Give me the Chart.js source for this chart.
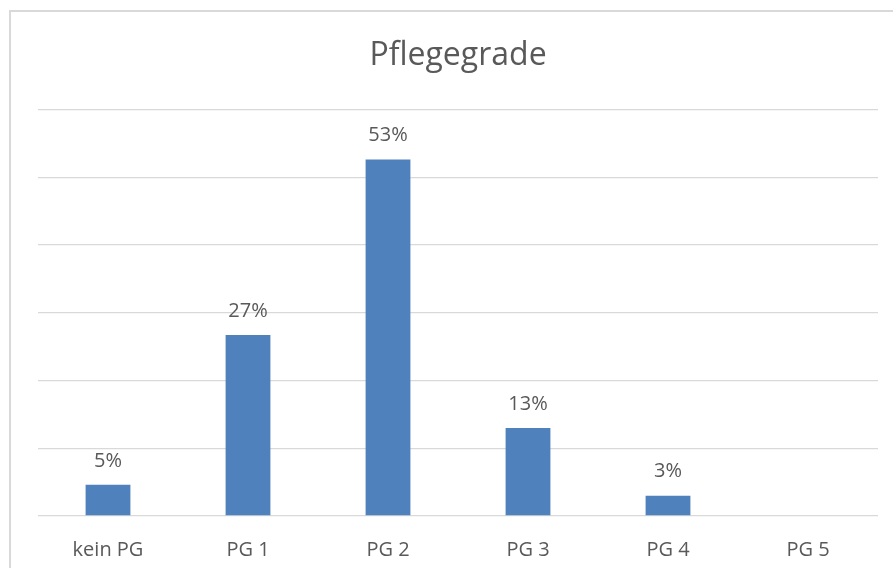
<!DOCTYPE html>
<html>
<head>
<meta charset="utf-8">
<script src="https://cdn.jsdelivr.net/npm/chart.js@4"></script>
<style>
html,body{margin:0;padding:0;background:#fff;}
#wrap{position:absolute;left:0;top:0;width:893px;height:568px;}
</style>
</head>
<body>
<div id="wrap"><canvas id="c" width="893" height="568"></canvas></div>
<script>
const categories = ["kein PG", "PG 1", "PG 2", "PG 3", "PG 4", "PG 5"];
const values = [4.6, 26.7, 52.6, 13.0, 3.0, 0];
const labels = ["5%", "27%", "53%", "13%", "3%", ""];
const yTicks = [0, 10, 20, 30, 40, 50, 60];

const textColor = "#595959";
const fontFamily = "'Open Sans', 'Noto Sans', sans-serif";

const frame = {
  id: "frame",
  beforeDraw(chart) {
    const ctx = chart.ctx;
    ctx.save();
    ctx.fillStyle = "#fff";
    ctx.fillRect(0, 0, chart.width, chart.height);
    ctx.strokeStyle = "#d9d9d9";
    ctx.lineWidth = 2;
    ctx.strokeRect(10, 11, 2000, 2000);
    ctx.restore();
  }
};

const barLabels = {
  id: "barLabels",
  afterDatasetsDraw(chart) {
    const ctx = chart.ctx;
    const meta = chart.getDatasetMeta(0);
    ctx.save();
    ctx.fillStyle = textColor;
    ctx.font = "20px " + fontFamily;
    ctx.textAlign = "center";
    ctx.textBaseline = "middle";
    meta.data.forEach((bar, i) => {
      if (!labels[i]) return;
      ctx.fillText(labels[i], bar.x, bar.y - 24);
    });
    ctx.restore();
  }
};

new Chart(document.getElementById("c"), {
  type: "bar",
  data: {
    labels: categories,
    datasets: [{
      data: values,
      backgroundColor: "#4f81bd",
      borderWidth: 0,
      categoryPercentage: 1,
      barPercentage: 0.32
    }]
  },
  options: {
    responsive: false,
    animation: false,
    layout: { padding: { left: 38, right: 15, top: 0, bottom: 0 } },
    plugins: {
      legend: { display: false },
      tooltip: { enabled: false },
      title: {
        display: true,
        text: "Pflegegrade",
        color: textColor,
        font: { family: fontFamily, size: 32, weight: "normal", lineHeight: 1.2 },
        padding: { top: 37, bottom: 34 }
      }
    },
    scales: {
      x: {
        grid: { display: false },
        border: { display: false },
        afterFit(scale) { scale.height = 52; },
        ticks: {
          color: textColor,
          font: { family: fontFamily, size: 20, lineHeight: 1.2 },
          padding: 14,
          maxRotation: 0
        }
      },
      y: {
        min: 0,
        max: 60,
        afterBuildTicks(scale) { scale.ticks = yTicks.map(v => ({ value: v })); },
        afterFit(scale) { scale.width = 0; },
        ticks: { display: false },
        grid: { color: "#d9d9d9", lineWidth: 1.3, drawTicks: false },
        border: { display: false }
      }
    }
  },
  plugins: [frame, barLabels]
});
</script>
</body>
</html>
